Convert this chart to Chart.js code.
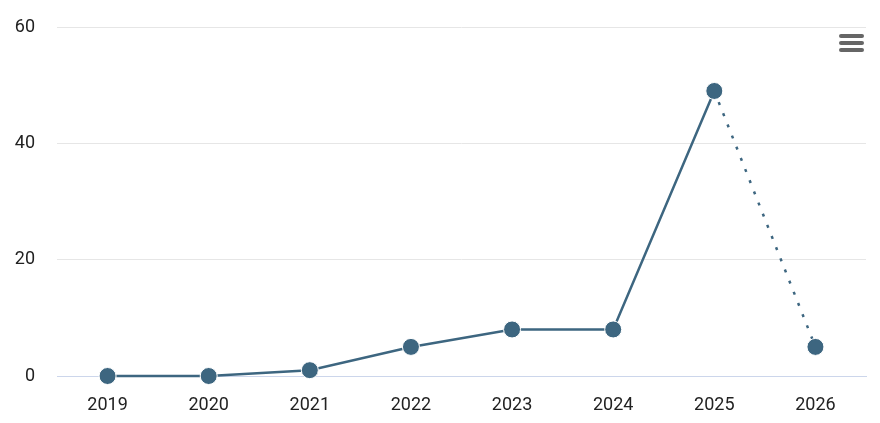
<!DOCTYPE html>
<html>
<head>
<meta charset="utf-8">
<script src="https://cdn.jsdelivr.net/npm/chart.js@4/dist/chart.umd.min.js"></script>
<style>
  html, body { margin: 0; padding: 0; background: #fff; }
  #wrap { position: relative; width: 880px; height: 423px; }
  .menu { position: absolute; left: 839px; width: 25px; height: 4px; border-radius: 2px; background: #666; }
</style>
</head>
<body>
<div id="wrap">
  <canvas id="myChart" width="880" height="423"></canvas>
  <div class="menu" style="top:34px"></div>
  <div class="menu" style="top:41px"></div>
  <div class="menu" style="top:48px"></div>
</div>
<script>
const years = ['2019', '2020', '2021', '2022', '2023', '2024', '2025', '2026'];
const counts = [0, 0, 1, 5, 8, 8, 49, 5];
const yTicks = [0, 20, 40, 60];

const lineColor = '#3d6680';

const ctx = document.getElementById('myChart').getContext('2d');
new Chart(ctx, {
  type: 'line',
  data: {
    labels: years,
    datasets: [{
      data: counts,
      clip: false,
      borderColor: lineColor,
      backgroundColor: lineColor,
      borderWidth: 2.5,
      pointRadius: 8.5,
      pointHoverRadius: 8.5,
      pointBorderColor: '#fff',
      pointBorderWidth: 1,
      pointBackgroundColor: lineColor,
      tension: 0,
      segment: {
        // last year is partial, so its segment is dotted
        borderDash: (c) => c.p1DataIndex === years.length - 1 ? [3, 9] : undefined
      }
    }]
  },
  options: {
    responsive: false,
    animation: false,
    layout: { padding: { top: 27, right: 14, bottom: 0, left: 0 } },
    plugins: { legend: { display: false }, tooltip: { enabled: false } },
    scales: {
      x: {
        offset: true,
        afterFit: (s) => { s.height = 47; s.paddingLeft = 0; s.paddingRight = 0; },
        grid: { display: false },
        border: { display: true, color: '#ccd6eb', width: 1 },
        ticks: { color: '#222', font: { family: 'Roboto', size: 18 }, padding: 11 }
      },
      y: {
        min: 0,
        max: 60,
        afterFit: (s) => { s.width = 57; s.paddingTop = 0; s.paddingBottom = 0; },
        afterBuildTicks: (s) => { s.ticks = yTicks.map(v => ({ value: v })); },
        grid: { color: '#e6e6e6', drawTicks: false },
        border: { display: false },
        ticks: { color: '#222', font: { family: 'Roboto', size: 18 }, padding: 22 }
      }
    }
  }
});
</script>
</body>
</html>
